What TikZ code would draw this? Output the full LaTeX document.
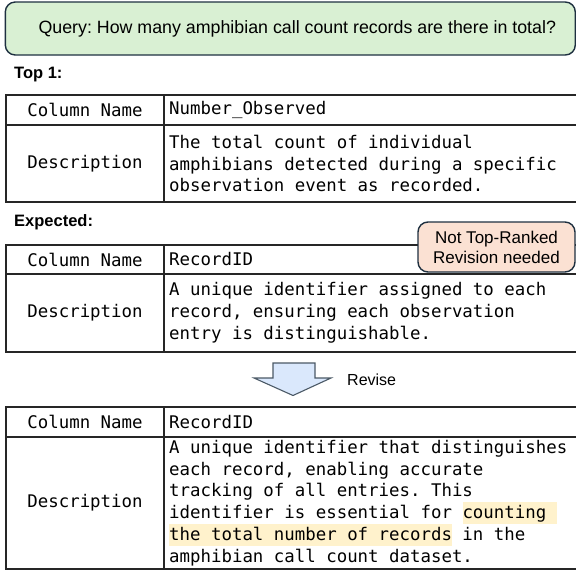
\documentclass[tikz,border=0pt]{standalone}
\usepackage{fontspec}
\setmainfont{Liberation Sans}
\setmonofont{DejaVu Sans Mono}
\frenchspacing
\definecolor{qfill}{HTML}{D9F0D3}
\definecolor{bfill}{HTML}{FBE1D3}
\definecolor{afill}{HTML}{DAE8FC}
\definecolor{hly}{HTML}{FFF2CC}
\definecolor{edgec}{HTML}{1E3040}
\newlength\hlw
\newcommand\hlit[1]{\settowidth\hlw{#1}\rlap{\textcolor{hly}{\rule[-5pt]{\hlw}{21.8pt}}}#1}
\tikzset{
  tbl/.style={draw=black!85, line width=1.2pt},
  mono/.style={font=\ttfamily\fontsize{17.4}{21.8}\selectfont, inner sep=0pt, align=left},
  keycell/.style={mono, align=center},
  lbl/.style={font=\bfseries\fontsize{16.5}{19}\selectfont, inner sep=0pt, anchor=west},
  qbox/.style={draw=edgec, line width=1.4pt, fill=qfill, rounded corners=10pt,
    minimum width=570pt, minimum height=53pt, inner sep=0pt,
    font=\fontsize{17.8}{21}\selectfont},
  badge/.style={draw=edgec, line width=1.4pt, fill=bfill, rounded corners=10pt,
    minimum width=157pt, minimum height=50pt, inner sep=0pt, align=center,
    font=\fontsize{17}{20}\selectfont},
  blockarrow/.style={draw=edgec!80, line width=1.1pt, fill=afill, line join=miter},
}
\begin{document}
\begin{tikzpicture}[x=1pt,y=-1pt]
\useasboundingbox (0,0) rectangle (576,570);
\clip (0,0) rectangle (576,570);

% query
\node[qbox] (query) at (290.3,28.5) {\hspace*{14pt}Query: How many amphibian call count records are there in total?};

% Top 1
\node[lbl] (top1) at (14,75) {Top 1:};
\draw[tbl] (6,95) rectangle (590,202);
\draw[tbl] (6,125) -- (590,125);
\draw[tbl] (164,95) -- (164,202);
\node[keycell] (k1a) at (85,110) {Column Name};
\node[keycell] (k1b) at (85,163.5) {Description};
\node[mono, anchor=west] (v1a) at (169,110) {Number\_Observed};
\node[mono, anchor=west] (v1b) at (169,163.5) {The total count of individual\\amphibians detected during a specific\\observation event as recorded.};

% Expected
\node[lbl] (exp) at (14,222) {Expected:};
\draw[tbl] (6,245) rectangle (590,352);
\draw[tbl] (6,274) -- (590,274);
\draw[tbl] (164,245) -- (164,352);
\node[keycell] (k2a) at (85,259.5) {Column Name};
\node[keycell] (k2b) at (85,313) {Description};
\node[mono, anchor=west] (v2a) at (169,259.5) {RecordID};
\node[mono, anchor=west] (v2b) at (169,313) {A unique identifier assigned to each\\record, ensuring each observation\\entry is distinguishable.};
\node[badge] (badge) at (496.5,247) {Not Top-Ranked\\Revision needed};

% revise arrow
\draw[blockarrow] (273,363) -- (315,363) -- (315,378) -- (331,378) -- (293,395.5) -- (254,378) -- (273,378) -- cycle;
\node[font=\fontsize{16}{19}\selectfont, inner sep=0pt, anchor=west] (revise) at (347,380) {Revise};

% revised
\draw[tbl] (6,407) rectangle (590,569);
\draw[tbl] (6,437) -- (590,437);
\draw[tbl] (164,407) -- (164,569);
\node[keycell] (k3a) at (85,422) {Column Name};
\node[keycell] (k3b) at (85,503) {Description};
\node[mono, anchor=west] (v3a) at (169,422) {RecordID};
\node[mono, anchor=west] (v3b) at (169,503) {A unique identifier that distinguishes\\each record, enabling accurate\\tracking of all entries. This\\identifier is essential for \hlit{counting\ }\\\hlit{the total number of records} in the\\amphibian call count dataset.};
\end{tikzpicture}
\end{document}
